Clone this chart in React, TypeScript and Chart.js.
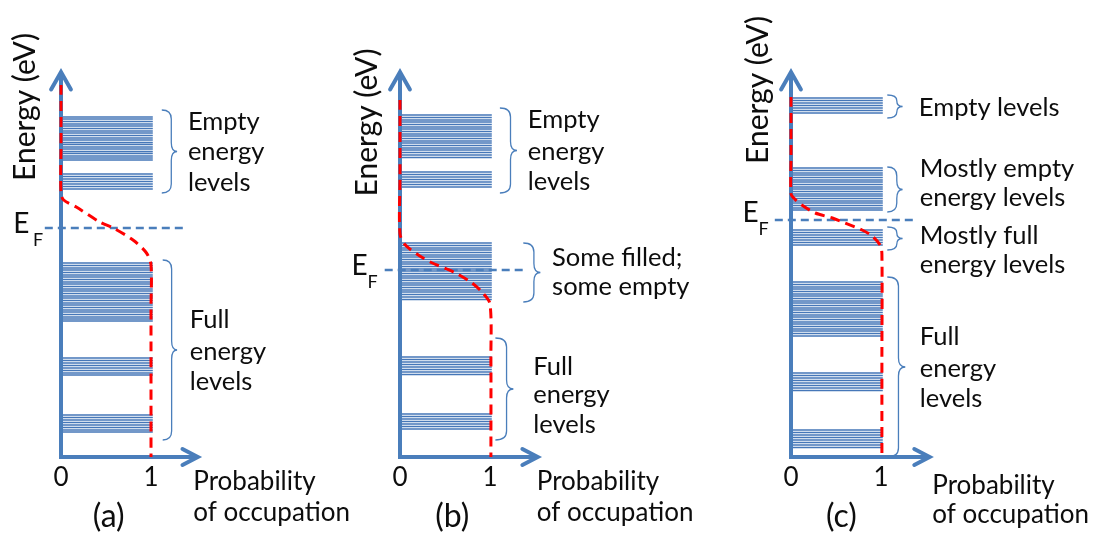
import React, { useEffect, useRef } from 'react';
import { Chart, registerables } from 'chart.js';

Chart.register(...registerables);

// ---------------- data ----------------
const panelNames = ['(a)', '(b)', '(c)'];
const xTickValues = [0, 1];
const xTickLabels = ['0', '1'];
const energyAxisLabel = 'Energy (eV)';
const probabilityAxisLabel = ['Probability', 'of occupation'];
const fermiSymbol = ['E', 'F'];

// energy levels (arbitrary energy units), each drawn from probability 0 to levelSpan[1]
const levelSpan = [0, 1.02];
const levelsA = [
  34.0, 33.8, 33.55, 33.3, 33.1, 32.85, 32.6, 32.4, 32.15, 31.9, 31.7, 31.45, 31.25, 31.0, 30.8, 30.55, 30.35, 30.1, 29.9, 29.7,
  28.3, 28.05, 27.8, 27.55, 27.3, 27.05, 26.8,
  19.4, 19.15, 18.9, 18.7, 18.45, 18.2, 18.0, 17.75, 17.5, 17.3, 17.05, 16.8, 16.6, 16.35, 16.1, 15.9, 15.65, 15.4, 15.2, 14.95,
  14.7, 14.5, 14.25, 14.0, 13.8, 13.6,
  9.9, 9.65, 9.4, 9.15, 8.9, 8.65, 8.4, 8.2,
  4.2, 3.95, 3.7, 3.45, 3.2, 2.95, 2.7, 2.5,
];
const levelsB = [
  34.2, 33.95, 33.7, 33.5, 33.25, 33.0, 32.8, 32.55, 32.3, 32.1, 31.85, 31.6, 31.4, 31.15, 30.9, 30.7, 30.45, 30.2, 29.95,
  28.5, 28.25, 28.0, 27.75, 27.5, 27.25, 27.0,
  21.4, 21.15, 20.9, 20.7, 20.45, 20.2, 20.0, 19.75, 19.5, 19.3, 19.05, 18.8, 18.6, 18.35, 18.1, 17.9, 17.65, 17.4, 17.2, 16.95,
  16.7, 16.5, 16.25, 16.0, 15.75,
  10.0, 9.75, 9.5, 9.25, 9.0, 8.75, 8.5, 8.25,
  4.3, 4.05, 3.8, 3.55, 3.3, 3.05, 2.8,
];
const levelsC = [
  35.9, 35.65, 35.4, 35.15, 34.9, 34.65, 34.4,
  28.9, 28.65, 28.4, 28.2, 27.95, 27.7, 27.5, 27.25, 27.0, 26.8, 26.55, 26.3, 26.1, 25.85, 25.6, 25.4, 25.15, 24.9, 24.7,
  22.7, 22.45, 22.2, 21.95, 21.7, 21.45, 21.2,
  17.5, 17.25, 17.0, 16.8, 16.55, 16.3, 16.1, 15.85, 15.6, 15.4, 15.15, 14.9, 14.7, 14.45, 14.2, 14.0, 13.75, 13.5, 13.3, 13.05,
  12.8, 12.6, 12.35, 12.1,
  8.4, 8.15, 7.9, 7.65, 7.4, 7.15, 6.9, 6.65,
  2.7, 2.45, 2.2, 1.95, 1.7, 1.45, 1.2, 0.95,
];

// Fermi levels and the dashed E_F line extent (probability units)
const fermiLevels = [22.9, 18.7, 23.7];
const fermiLineFrom = [-0.18, -0.17, -0.18];
const fermiLineTo = [1.38, 1.39, 1.4];

// occupation probability curves (x = probability, y = energy)
const occupationA = [
  { x: 0, y: 37.2 }, { x: 0, y: 31.0 }, { x: 0, y: 26.4 }, { x: 0.03, y: 25.7 }, { x: 0.17, y: 25.0 },
  { x: 0.43, y: 23.5 }, { x: 0.58, y: 22.9 }, { x: 0.8, y: 21.7 }, { x: 0.95, y: 20.4 }, { x: 1.0, y: 19.2 },
  { x: 1.0, y: 15.0 }, { x: 1.0, y: 0 },
];
const occupationB = [
  { x: 0, y: 35.7 }, { x: 0, y: 28.0 }, { x: 0, y: 22.3 }, { x: 0.06, y: 21.2 }, { x: 0.22, y: 20.1 },
  { x: 0.36, y: 19.4 }, { x: 0.52, y: 18.8 }, { x: 0.64, y: 18.3 }, { x: 0.8, y: 17.4 }, { x: 0.92, y: 16.4 },
  { x: 1.0, y: 15.3 }, { x: 1.01, y: 10.0 }, { x: 1.01, y: 0 },
];
const occupationC = [
  { x: 0, y: 36.0 }, { x: 0, y: 30.0 }, { x: 0, y: 26.3 }, { x: 0.03, y: 25.9 }, { x: 0.12, y: 25.2 },
  { x: 0.27, y: 24.4 }, { x: 0.46, y: 23.9 }, { x: 0.6, y: 23.4 }, { x: 0.79, y: 22.7 }, { x: 0.9, y: 22.1 },
  { x: 0.99, y: 21.2 }, { x: 1.01, y: 20.3 }, { x: 1.01, y: 10.0 }, { x: 1.01, y: 0 },
];

// axes extents
const energyAxisTop = 38.5;
const probabilityAxisEnd = [1.52, 1.53, 1.54];

// ---------------- layout / style ----------------
const W = 1099;
const H = 536;
const PX_PER_PROB = 90; // pixels per probability unit
const PX_PER_ENERGY = 10; // pixels per energy unit
const ORIGIN_X = [61, 400, 791];
const ORIGIN_Y = 457;
const AXIS_IDS = ['xa', 'xb', 'xc'];
const AXIS_BLUE = '#4a7ebb';
const LEVEL_BLUE = '#4677b8';
const RED = '#ff0000';
const FONT = 'Lato, "Open Sans", sans-serif';

const levelSets = [levelsA, levelsB, levelsC];
const occupationSets = [occupationA, occupationB, occupationC];

type Label = { t: string; x: number; y: number };
type Brace = { x0: number; x1: number; top: number; bottom: number };

const panelLabels: Label[][] = [
  [
    { t: 'Empty', x: 1.41, y: 32.7 }, { t: 'energy', x: 1.41, y: 29.7 }, { t: 'levels', x: 1.41, y: 26.6 },
    { t: 'Full', x: 1.43, y: 12.9 }, { t: 'energy', x: 1.43, y: 9.7 }, { t: 'levels', x: 1.43, y: 6.7 },
  ],
  [
    { t: 'Empty', x: 1.42, y: 32.9 }, { t: 'energy', x: 1.42, y: 29.7 }, { t: 'levels', x: 1.42, y: 26.7 },
    { t: 'Some filled;', x: 1.69, y: 19.1 }, { t: 'some empty', x: 1.69, y: 16.2 },
    { t: 'Full', x: 1.48, y: 8.25 }, { t: 'energy', x: 1.48, y: 5.4 }, { t: 'levels', x: 1.48, y: 2.4 },
  ],
  [
    { t: 'Empty levels', x: 1.42, y: 34.1 },
    { t: 'Mostly empty', x: 1.43, y: 28.0 }, { t: 'energy levels', x: 1.43, y: 25.1 },
    { t: 'Mostly full', x: 1.43, y: 21.3 }, { t: 'energy levels', x: 1.43, y: 18.4 },
    { t: 'Full', x: 1.43, y: 11.2 }, { t: 'energy', x: 1.43, y: 8.0 }, { t: 'levels', x: 1.43, y: 5.0 },
  ],
];

const panelBraces: Brace[][] = [
  [
    { x0: 1.12, x1: 1.29, top: 34.7, bottom: 26.4 },
    { x0: 1.13, x1: 1.29, top: 19.7, bottom: 1.7 },
  ],
  [
    { x0: 1.11, x1: 1.3, top: 34.9, bottom: 26.4 },
    { x0: 1.37, x1: 1.56, top: 21.4, bottom: 15.5 },
    { x0: 1.06, x1: 1.26, top: 11.9, bottom: 1.7 },
  ],
  [
    { x0: 1.07, x1: 1.24, top: 36.2, bottom: 33.9 },
    { x0: 1.07, x1: 1.24, top: 29.0, bottom: 24.5 },
    { x0: 1.07, x1: 1.24, top: 23.0, bottom: 20.7 },
    { x0: 1.07, x1: 1.27, top: 18.0, bottom: 0.0 },
  ],
];

const energyLabelPos = [
  { x: -0.29, y: 35.0 },
  { x: -0.26, y: 33.45 },
  { x: -0.26, y: 36.7 },
];
const fermiLabelPos = [
  { ex: -0.53, ey: 22.4, fx: -0.31, fy: 21.1 },
  { ex: -0.54, ey: 18.2, fx: -0.36, fy: 16.9 },
  { ex: -0.54, ey: 23.5, fx: -0.36, fy: 22.2 },
];
const probLabelPos = [
  { x: 1.47, y1: -3.3, y2: -6.4 },
  { x: 1.52, y1: -3.3, y2: -6.4 },
  { x: 1.57, y1: -3.7, y2: -6.6 },
];
const panelNamePos = [0.53, 0.58, 0.56];
const panelNameY = -7.0;
const tickLabelY = -2.9;

function levelSegments(levels: number[]) {
  const pts: { x: number; y: number | null }[] = [];
  levels.forEach((e) => {
    pts.push({ x: levelSpan[0], y: e }, { x: levelSpan[1], y: e }, { x: levelSpan[1], y: null });
  });
  return pts;
}

const textPlugin = {
  id: 'diagramText',
  afterDatasetsDraw(chart: any) {
    const ctx: CanvasRenderingContext2D = chart.ctx;
    const ys = chart.scales.y;
    AXIS_IDS.forEach((id, i) => {
      const xs = chart.scales[id];
      const px = (v: number) => xs.getPixelForValue(v);
      const py = (v: number) => ys.getPixelForValue(v);

      // braces
      ctx.save();
      ctx.strokeStyle = AXIS_BLUE;
      ctx.lineWidth = 1.3;
      panelBraces[i].forEach((b) => {
        const xl = px(b.x0);
        const xr = px(b.x1);
        const yt = py(b.top);
        const yb = py(b.bottom);
        const xm = xl + 0.62 * (xr - xl);
        const ym = (yt + yb) / 2;
        const r = Math.min(9, (yb - yt) / 4);
        ctx.beginPath();
        ctx.moveTo(xl, yt);
        ctx.quadraticCurveTo(xm, yt, xm, yt + r);
        ctx.lineTo(xm, ym - r);
        ctx.quadraticCurveTo(xm, ym, xr, ym);
        ctx.quadraticCurveTo(xm, ym, xm, ym + r);
        ctx.lineTo(xm, yb - r);
        ctx.quadraticCurveTo(xm, yb, xl, yb);
        ctx.stroke();
      });
      ctx.restore();

      ctx.save();
      ctx.fillStyle = '#0d0d0d';
      ctx.textBaseline = 'alphabetic';

      // annotation labels
      ctx.font = `25.5px ${FONT}`;
      ctx.textAlign = 'left';
      panelLabels[i].forEach((l) => ctx.fillText(l.t, px(l.x), py(l.y)));

      // probability axis title
      const pl = probLabelPos[i];
      ctx.font = `26px ${FONT}`;
      ctx.fillText(probabilityAxisLabel[0], px(pl.x), py(pl.y1));
      ctx.fillText(probabilityAxisLabel[1], px(pl.x), py(pl.y2));

      // tick labels
      ctx.textAlign = 'center';
      xTickValues.forEach((v, k) => ctx.fillText(xTickLabels[k], px(v), py(tickLabelY)));

      // panel name
      ctx.font = `32px ${FONT}`;
      ctx.fillText(panelNames[i], px(panelNamePos[i]), py(panelNameY));

      // energy axis title (rotated)
      ctx.font = `30px ${FONT}`;
      const ep = energyLabelPos[i];
      ctx.save();
      ctx.translate(px(ep.x), py(ep.y));
      ctx.rotate(-Math.PI / 2);
      ctx.textAlign = 'center';
      ctx.fillText(energyAxisLabel, 0, 0);
      ctx.restore();

      // E_F
      const fp = fermiLabelPos[i];
      ctx.textAlign = 'left';
      ctx.font = `28px ${FONT}`;
      ctx.fillText(fermiSymbol[0], px(fp.ex), py(fp.ey));
      ctx.font = `18px ${FONT}`;
      ctx.fillText(fermiSymbol[1], px(fp.fx), py(fp.fy));
      ctx.restore();
    });
  },
};

export default function App() {
  const ref = useRef<HTMLCanvasElement>(null);

  useEffect(() => {
    if (!ref.current) return;
    const datasets: any[] = [];
    const common = { yAxisID: 'y', pointRadius: 0, pointHoverRadius: 0, pointHitRadius: 0, fill: false };

    AXIS_IDS.forEach((id, i) => {
      // energy levels
      datasets.push({
        ...common,
        xAxisID: id,
        label: `levels ${panelNames[i]}`,
        data: levelSegments(levelSets[i]),
        borderColor: LEVEL_BLUE,
        borderWidth: 1.6,
        spanGaps: false,
        order: 4,
      });
      // axes
      datasets.push({
        ...common,
        xAxisID: id,
        label: `axes ${panelNames[i]}`,
        data: [
          { x: 0, y: energyAxisTop },
          { x: 0, y: 0 },
          { x: probabilityAxisEnd[i], y: 0 },
        ],
        borderColor: AXIS_BLUE,
        borderWidth: 4,
        borderJoinStyle: 'miter',
        order: 3,
      });
      // arrow heads
      datasets.push({
        ...common,
        xAxisID: id,
        label: `energy arrow ${panelNames[i]}`,
        data: [
          { x: -0.11, y: energyAxisTop - 1.75 },
          { x: 0, y: energyAxisTop },
          { x: 0.11, y: energyAxisTop - 1.75 },
        ],
        borderColor: AXIS_BLUE,
        borderWidth: 4,
        borderJoinStyle: 'miter',
        borderCapStyle: 'round',
        order: 3,
      });
      datasets.push({
        ...common,
        xAxisID: id,
        label: `probability arrow ${panelNames[i]}`,
        data: [
          { x: probabilityAxisEnd[i] - 0.17, y: 0.8 },
          { x: probabilityAxisEnd[i], y: 0 },
          { x: probabilityAxisEnd[i] - 0.17, y: -0.8 },
        ],
        borderColor: AXIS_BLUE,
        borderWidth: 4,
        borderJoinStyle: 'miter',
        borderCapStyle: 'round',
        order: 3,
      });
      // Fermi level
      datasets.push({
        ...common,
        xAxisID: id,
        label: `EF ${panelNames[i]}`,
        data: [
          { x: fermiLineFrom[i], y: fermiLevels[i] },
          { x: fermiLineTo[i], y: fermiLevels[i] },
        ],
        borderColor: AXIS_BLUE,
        borderWidth: 2.5,
        borderDash: [8, 5],
        order: 2,
      });
      // occupation probability
      datasets.push({
        ...common,
        xAxisID: id,
        label: `occupation ${panelNames[i]}`,
        data: occupationSets[i],
        borderColor: RED,
        borderWidth: 3,
        borderDash: [10, 6],
        tension: 0.3,
        order: 1,
      });
    });

    const scales: any = {
      y: {
        type: 'linear',
        display: false,
        min: (ORIGIN_Y - H) / PX_PER_ENERGY,
        max: ORIGIN_Y / PX_PER_ENERGY,
      },
    };
    AXIS_IDS.forEach((id, i) => {
      scales[id] = {
        type: 'linear',
        axis: 'x',
        position: 'bottom',
        display: false,
        min: -ORIGIN_X[i] / PX_PER_PROB,
        max: (W - ORIGIN_X[i]) / PX_PER_PROB,
      };
    });

    const chart = new Chart(ref.current, {
      type: 'line',
      data: { datasets },
      options: {
        animation: false,
        responsive: false,
        maintainAspectRatio: false,
        devicePixelRatio: 1,
        events: [],
        layout: { padding: 0 },
        plugins: {
          legend: { display: false },
          tooltip: { enabled: false },
          title: { display: false },
        },
        scales,
      },
      plugins: [textPlugin],
    } as any);

    return () => chart.destroy();
  }, []);

  return (
    <div style={{ position: 'absolute', left: 0, top: 0, width: W, height: H, background: '#ffffff' }}>
      <canvas ref={ref} width={W} height={H} style={{ display: 'block', width: W, height: H }} />
    </div>
  );
}
